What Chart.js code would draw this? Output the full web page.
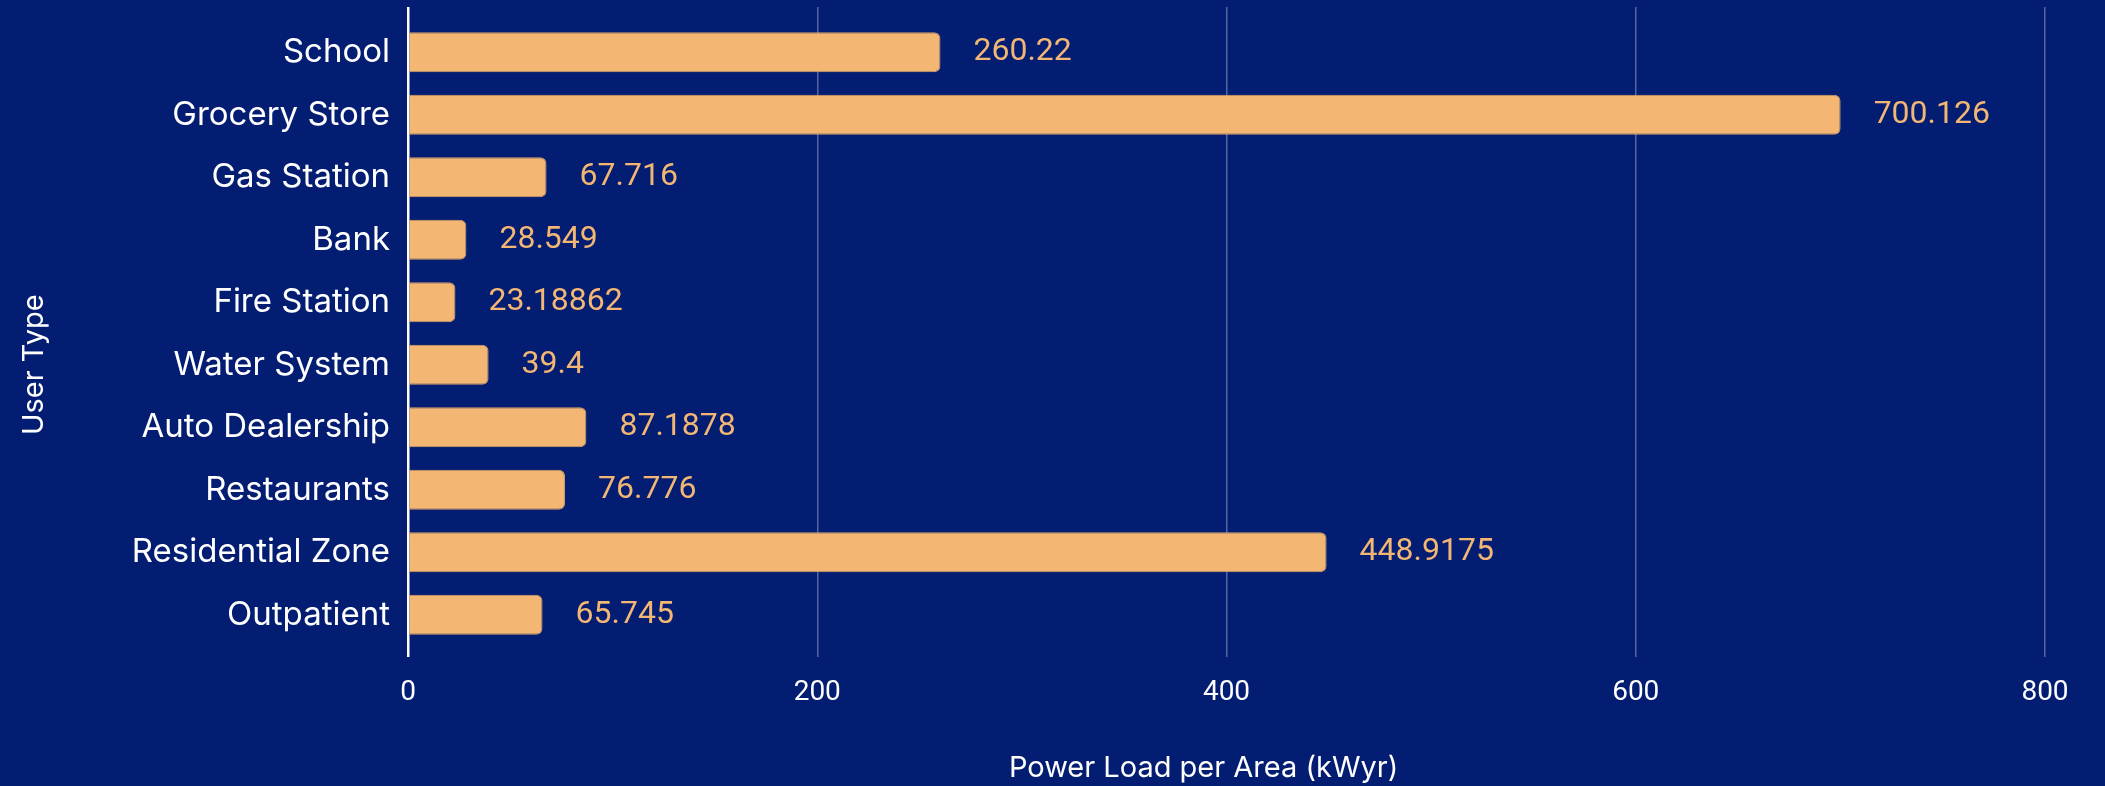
<!DOCTYPE html>
<html>
<head>
<meta charset="utf-8">
<title>Power Load per Area by User Type</title>
<script src="https://cdn.jsdelivr.net/npm/chart.js@4.4.1/dist/chart.umd.min.js"></script>
<style>
  html, body { margin: 0; padding: 0; background: #031d72; }
  #wrap { width: 2105px; height: 786px; position: relative; }
</style>
</head>
<body>
<div id="wrap"><canvas id="loadChart"></canvas></div>
<script>
// user types, listed top to bottom
var userTypes = ["School", "Grocery Store", "Gas Station", "Bank", "Fire Station",
  "Water System", "Auto Dealership", "Restaurants", "Residential Zone", "Outpatient"];
// power load per area (kWyr)
var powerLoad = [260.22, 700.126, 67.716, 28.549, 23.18862, 39.4, 87.1878, 76.776, 448.9175, 65.745];
var xTicks = [0, 200, 400, 600, 800];
var xTitle = "Power Load per Area (kWyr)";
var yTitle = "User Type";

var navy = "#031d72";
var peach = "#f3b773";

// zero line is white, the rest are faint
function gridColor(ctx) {
  return ctx.tick && ctx.tick.value === 0 ? "#ffffff" : "rgba(255,255,255,0.32)";
}
function gridWidth(ctx) {
  return ctx.tick && ctx.tick.value === 0 ? 2.5 : 1.5;
}
function setTicks(scale) {
  scale.ticks = xTicks.map(function (v) { return { value: v }; });
}

// value text next to the end of each bar
var valueLabels = {
  id: "valueLabels",
  afterDatasetsDraw: function (chart) {
    var ctx = chart.ctx;
    var meta = chart.getDatasetMeta(0);
    ctx.save();
    ctx.font = "32px Roboto";
    ctx.fillStyle = peach;
    ctx.textAlign = "left";
    ctx.textBaseline = "middle";
    meta.data.forEach(function (bar, i) {
      ctx.fillText(String(powerLoad[i]), bar.x + 33, bar.y);
    });
    ctx.restore();
  }
};

// axis titles
var axisTitles = {
  id: "axisTitles",
  afterDraw: function (chart) {
    var ctx = chart.ctx, area = chart.chartArea;
    ctx.save();
    ctx.font = "29px Inter";
    ctx.fillStyle = "#ffffff";
    ctx.textAlign = "center";
    ctx.textBaseline = "middle";
    ctx.fillText(xTitle, area.left + area.width * 0.486, chart.height - 18);
    ctx.translate(34, area.top + area.height * 0.55);
    ctx.rotate(-Math.PI / 2);
    ctx.fillText(yTitle, 0, 0);
    ctx.restore();
  }
};

var chart = new Chart(document.getElementById("loadChart"), {
  type: "bar",
  data: {
    labels: userTypes,
    datasets: [{
      data: powerLoad,
      backgroundColor: peach,
      borderColor: "#d9a062",
      borderWidth: 1,
      borderRadius: 6,
      borderSkipped: "start",
      categoryPercentage: 1,
      barPercentage: 0.64
    }]
  },
  options: {
    indexAxis: "y",
    responsive: true,
    maintainAspectRatio: false,
    animation: false,
    layout: { padding: { top: 7, right: 60, left: 0, bottom: 0 } },
    plugins: {
      legend: { display: false },
      tooltip: { enabled: false }
    },
    scales: {
      x: {
        type: "linear",
        position: "bottom",
        min: 0,
        max: 800,
        afterBuildTicks: setTicks,
        afterFit: function (s) { s.height = 140; },
        grid: { color: gridColor, lineWidth: gridWidth, drawTicks: true, tickLength: 11 },
        border: { display: false },
        ticks: { color: "#ffffff", font: { family: "Roboto", size: 28 }, padding: 19 }
      },
      xTop: {
        type: "linear",
        axis: "x",
        position: "top",
        min: 0,
        max: 800,
        afterBuildTicks: setTicks,
        afterFit: function (s) { s.height = 14; },
        grid: { drawOnChartArea: false, drawTicks: true, tickLength: 14, color: gridColor, lineWidth: gridWidth },
        border: { display: false },
        ticks: { display: false }
      },
      y: {
        afterFit: function (s) {
          s.width = 408;
          // no extra room above/below for the outer labels
          s.paddingTop = 0;
          s.paddingBottom = 0;
        },
        grid: { display: false },
        border: { display: false },
        ticks: { color: "#ffffff", font: { family: "Inter", size: 33 }, padding: 10, autoSkip: false }
      }
    }
  },
  plugins: [valueLabels, axisTitles]
});
</script>
</body>
</html>
